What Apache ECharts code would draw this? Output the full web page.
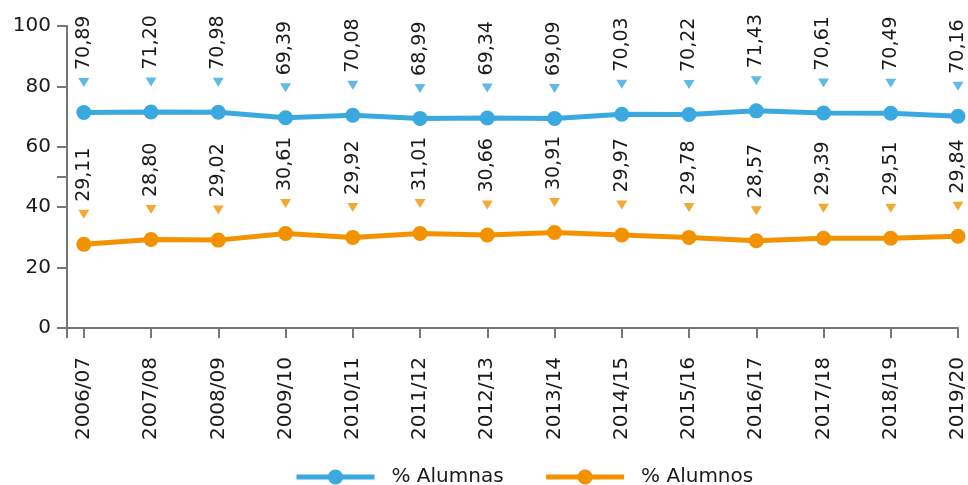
<!DOCTYPE html>
<html>
<head>
<meta charset="utf-8">
<script src="https://cdn.jsdelivr.net/npm/echarts@6/dist/echarts.min.js"></script>
<style>html,body{margin:0;padding:0;background:#fff}#c{width:968px;height:485px}</style>
</head>
<body>
<div id="c"></div>
<script>
var categories = ['2006/07','2007/08','2008/09','2009/10','2010/11','2011/12','2012/13','2013/14','2014/15','2015/16','2016/17','2017/18','2018/19','2019/20'];
// values shown in the data labels
var labelsAlumnas = [70.89,71.20,70.98,69.39,70.08,68.99,69.34,69.09,70.03,70.22,71.43,70.61,70.49,70.16];
var labelsAlumnos = [29.11,28.80,29.02,30.61,29.92,31.01,30.66,30.91,29.97,29.78,28.57,29.39,29.51,29.84];
// values as plotted (read from point positions)
var valuesAlumnas = [71.35,71.5,71.45,69.6,70.45,69.4,69.55,69.4,70.8,70.7,71.9,71.2,71.1,70.1];
var valuesAlumnos = [27.7,29.3,29.1,31.3,30.0,31.3,30.8,31.6,30.8,30.0,28.9,29.7,29.7,30.4];
var yTicks = [0,20,40,50,60,80,100];
var yLabelTicks = [0,20,40,60,80,100];

var BLUE = '#3aa9e0', ORANGE = '#f39200', AXIS = '#777777', TXT = '#1a1a1a';
var FONT = 'DejaVu Sans';
function fmt(v){ return v.toFixed(2).replace('.', ','); }
function pts(arr){ return arr.map(function(v,i){ return [i, v]; }); }
var idx = categories.map(function(_,i){ return i; });
var tri = 'path://M0,0 L10,0 L5,8 Z';

function lineSeries(name, vals, labs, color){
  return {
    name: name, type: 'line', data: pts(vals), symbol: 'circle', symbolSize: 15,
    lineStyle: {width: 5, color: color}, itemStyle: {color: color},
    label: {show: true, position: 'top', distance: 35, rotate: 90, align: 'left', verticalAlign: 'middle',
      fontFamily: FONT, fontSize: 19, color: TXT,
      formatter: function(p){ return fmt(labs[p.dataIndex]); }},
    z: 3
  };
}
function triSeries(vals, color){
  return {
    type: 'scatter', data: pts(vals), symbol: tri, symbolSize: [11, 9], symbolOffset: [0, -30],
    itemStyle: {color: color}, silent: true, z: 4
  };
}

var chart = echarts.init(document.getElementById('c'));
chart.setOption({
  animation: false,
  textStyle: {fontFamily: FONT},
  grid: {left: 67, right: 10, top: 26, bottom: 157, containLabel: false},
  xAxis: {
    type: 'value', min: -0.25, max: 13,
    splitLine: {show: false},
    axisLine: {show: true, onZero: false, lineStyle: {color: AXIS, width: 2}},
    axisTick: {show: true, length: 10, lineStyle: {color: AXIS, width: 2}, customValues: [-0.25].concat(idx)},
    axisLabel: {customValues: idx, rotate: 90, margin: 29, fontSize: 20, color: TXT, fontFamily: FONT,
      formatter: function(v){ return categories[Math.round(v)]; }}
  },
  yAxis: {
    type: 'value', min: 0, max: 100, interval: 20,
    splitLine: {show: false},
    axisLine: {show: true, onZero: false, lineStyle: {color: AXIS, width: 2}},
    axisTick: {show: true, length: 10, lineStyle: {color: AXIS, width: 2}, customValues: yTicks},
    axisLabel: {customValues: yLabelTicks, margin: 16, fontSize: 20, color: TXT, fontFamily: FONT}
  },
  legend: {
    data: ['% Alumnas', '% Alumnos'], left: 289, top: 462, itemWidth: 78, itemHeight: 19, itemGap: 40,
    lineStyle: {width: 5},
    textStyle: {fontSize: 20, color: TXT, fontFamily: FONT, padding: [0,0,0,12]}
  },
  series: [
    lineSeries('% Alumnas', valuesAlumnas, labelsAlumnas, BLUE),
    lineSeries('% Alumnos', valuesAlumnos, labelsAlumnos, ORANGE),
    triSeries(valuesAlumnas, BLUE),
    triSeries(valuesAlumnos, ORANGE)
  ]
});
</script>
</body>
</html>
